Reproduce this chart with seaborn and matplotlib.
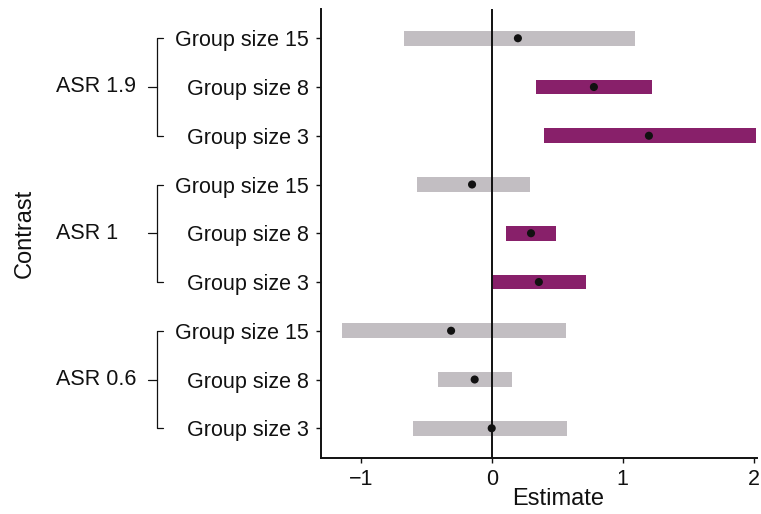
import numpy as np
import pandas as pd
import matplotlib
matplotlib.use("Agg")
import matplotlib.pyplot as plt
from matplotlib.lines import Line2D
from matplotlib import transforms
import seaborn as sns

# Contrast estimates with confidence intervals, nested by ASR then group size
groups = ["ASR 1.9", "ASR 1", "ASR 0.6"]
sizes = ["Group size 15", "Group size 8", "Group size 3"]
estimate = [0.20, 0.78, 1.20, -0.15, 0.30, 0.36, -0.31, -0.13, 0.00]
lower = [-0.67, 0.34, 0.40, -0.57, 0.11, 0.005, -1.14, -0.41, -0.60]
upper = [1.09, 1.22, 2.02, 0.29, 0.49, 0.72, 0.57, 0.155, 0.575]
x_ticks = [-1, 0, 1, 2]

df = pd.DataFrame({
    "group": np.repeat(groups, len(sizes)),
    "size": sizes * len(groups),
    "estimate": estimate,
    "lower": lower,
    "upper": upper,
})
df["row"] = np.arange(len(df))
df["signif"] = (df["lower"] > 0) | (df["upper"] < 0)

sns.set_theme(style="ticks")
plt.rcParams["font.family"] = ["Liberation Sans", "DejaVu Sans"]

W, H = 761, 514
fig = plt.figure(figsize=(W / 100, H / 100), dpi=100)
ax = fig.add_axes([321 / W, (H - 457.5) / H, (757 - 321) / W, (457.5 - 9) / H])

purple = "#88206A"
grey = "#C2BEC2"
ink = "#111111"

ax.barh(df["row"], df["upper"] - df["lower"], left=df["lower"], height=0.30,
        color=[purple if s else grey for s in df["signif"]], linewidth=0, zorder=1)
ax.axvline(0, color=ink, lw=1.4, zorder=2)
sns.scatterplot(data=df, x="estimate", y="row", ax=ax, color=ink, s=34,
                edgecolor="none", zorder=3, legend=False)

ax.set_xlim(-1.303, 2.025)
ax.set_ylim(len(df) - 1 + 0.6, -0.6)
ax.set_xticks(x_ticks)
ax.set_xticklabels([str(t).replace("-", "\u2212") for t in x_ticks])
ax.set_yticks(df["row"])
ax.set_yticklabels(df["size"])
ax.set_xlabel("")
ax.set_ylabel("")

for side in ["top", "right"]:
    ax.spines[side].set_visible(False)
for side in ["left", "bottom"]:
    ax.spines[side].set_linewidth(1.4)
    ax.spines[side].set_color(ink)

ax.tick_params(axis="both", labelsize=15.5, colors=ink, length=3.6, width=1.0,
               pad=5, labelcolor=ink)

# nested group brackets on the left
trans = transforms.blended_transform_factory(fig.transFigure, ax.transData)
bx, hook, stub = 157 / W, 163 / W, 148 / W
for g in groups:
    rows = df.loc[df["group"] == g, "row"].to_numpy()
    top, bot, mid = rows.min(), rows.max(), rows.mean()
    kw = dict(transform=trans, color=ink, lw=0.9, clip_on=False)
    fig.add_artist(Line2D([hook, bx, bx, hook], [top, top, bot, bot], **kw))
    fig.add_artist(Line2D([stub, bx], [mid, mid], **kw))
    fig.text(56 / W, mid, g, transform=trans, ha="left", va="center",
             fontsize=15.5, color=ink)

fig.text(558 / W, (H - 499) / H, "Estimate", ha="center", va="center",
         fontsize=17, color=ink)
fig.text(25 / W, (H - 233) / H, "Contrast", ha="center", va="center",
         rotation=90, fontsize=17, color=ink)

fig.savefig("out.png", dpi=100, facecolor="white")
